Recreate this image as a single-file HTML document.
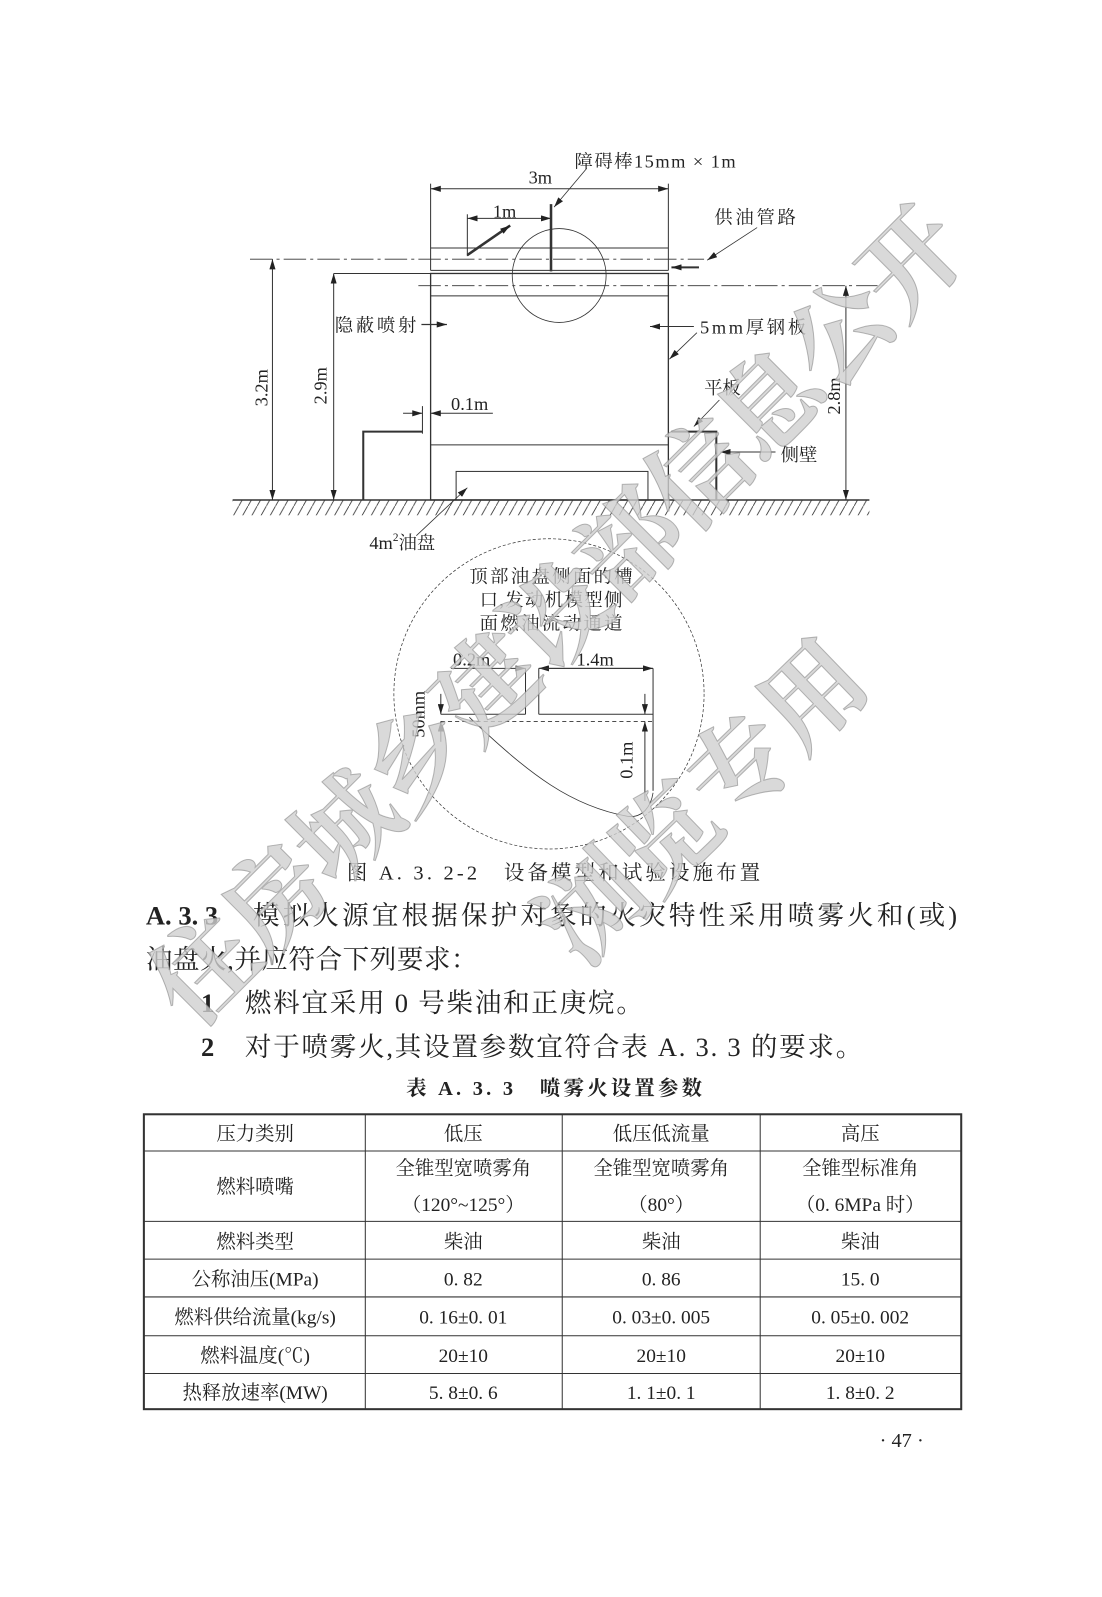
<!DOCTYPE html>
<html><head><meta charset="utf-8"><style>
html,body{margin:0;padding:0;background:#fff}
svg{display:block}
text{font-family:"Liberation Serif","Noto Serif CJK SC",serif;fill:#222}
.b{font-weight:bold}
</style></head><body>
<svg width="1102" height="1597" viewBox="0 0 1102 1597" xmlns="http://www.w3.org/2000/svg">
<defs>
<marker id="a" viewBox="0 0 10 6" refX="10" refY="3" markerWidth="10" markerHeight="6" orient="auto-start-reverse" markerUnits="userSpaceOnUse"><path d="M0,0 L10,3 L0,6 z" fill="#222"/></marker>
<pattern id="h" width="9" height="16" patternUnits="userSpaceOnUse"><line x1="9" y1="0" x2="0" y2="16" stroke="#333" stroke-width="0.8"/></pattern>
</defs>
<g transform="scale(1.0204)">
<g stroke="#333" fill="none" stroke-width="1">
<line x1="228" y1="490" x2="852" y2="490" stroke-width="1.5"/>
<rect x="228" y="490" width="624" height="15" fill="url(#h)" stroke="none"/>
<line x1="422" y1="243" x2="655" y2="243"/>
<line x1="422" y1="265" x2="655" y2="265"/>
<line x1="422" y1="180" x2="422" y2="265"/>
<line x1="655" y1="180" x2="655" y2="265"/>
<rect x="422" y="268" width="233" height="222" stroke-width="1.3"/>
<line x1="422" y1="290" x2="655" y2="290"/>
<line x1="422" y1="436" x2="655" y2="436"/>
<rect x="447" y="462" width="188" height="28"/>
<ellipse cx="548" cy="270" rx="46" ry="46" stroke-width="0.8"/>
<line x1="245" y1="254" x2="690" y2="254" stroke-dasharray="22,4,3,4" stroke-width="0.8"/>
<line x1="410" y1="280" x2="860" y2="280" stroke-dasharray="22,4,3,4" stroke-width="0.8"/>
<line x1="422" y1="185" x2="655" y2="185" marker-start="url(#a)" marker-end="url(#a)"/>
<line x1="458" y1="214" x2="540" y2="214" marker-start="url(#a)" marker-end="url(#a)"/>
<line x1="458" y1="210" x2="458" y2="251"/>
<line x1="540" y1="200" x2="540" y2="266" stroke-width="2.5"/>
<line x1="458" y1="250" x2="500" y2="221" stroke-width="2.5" marker-end="url(#a)"/>
<line x1="575" y1="165" x2="543" y2="203" stroke-width="0.8" marker-end="url(#a)"/>
<line x1="267" y1="254" x2="267" y2="490" marker-start="url(#a)" marker-end="url(#a)"/>
<line x1="327" y1="268" x2="327" y2="490" marker-start="url(#a)" marker-end="url(#a)"/>
<line x1="327" y1="268" x2="422" y2="268"/>
<line x1="829" y1="280" x2="829" y2="490" marker-start="url(#a)" marker-end="url(#a)"/>
<line x1="413" y1="318" x2="438" y2="318" stroke-width="1.3" marker-end="url(#a)"/>
<line x1="680" y1="320" x2="637" y2="320" stroke-width="1" marker-end="url(#a)"/>
<line x1="683" y1="326" x2="656" y2="352" stroke-width="0.8" marker-end="url(#a)"/>
<line x1="705" y1="392" x2="680" y2="418" stroke-width="0.8" marker-end="url(#a)"/>
<line x1="760" y1="443" x2="706" y2="443" stroke-width="1" marker-end="url(#a)"/>
<line x1="742" y1="223" x2="693" y2="255" stroke-width="0.8" marker-end="url(#a)"/>
<line x1="685" y1="262" x2="658" y2="262" stroke-width="2" marker-end="url(#a)"/>
<line x1="408" y1="525" x2="458" y2="478" stroke-width="0.8" marker-end="url(#a)"/>
<line x1="395" y1="405" x2="414" y2="405" marker-end="url(#a)"/>
<line x1="483" y1="405" x2="422" y2="405" marker-end="url(#a)"/>
<line x1="414" y1="398" x2="414" y2="425"/>
<polyline points="356,490 356,423 414,423" stroke-width="2"/>
<polyline points="658,423 702,423 702,490" stroke-width="2"/>
<circle cx="538" cy="680" r="152" stroke-dasharray="3,2" stroke-width="0.7"/>
<line x1="442" y1="655" x2="515" y2="655" marker-end="url(#a)"/>
<line x1="640" y1="655" x2="528" y2="655" marker-end="url(#a)"/>
<line x1="528" y1="655" x2="640" y2="655" marker-end="url(#a)"/>
<line x1="515" y1="655" x2="515" y2="700"/>
<line x1="528" y1="655" x2="528" y2="700"/>
<line x1="640" y1="655" x2="640" y2="775"/>
<line x1="432" y1="700" x2="515" y2="700"/>
<line x1="528" y1="700" x2="640" y2="700"/>
<line x1="432" y1="707" x2="640" y2="707" stroke-dasharray="4,3" stroke-width="0.8"/>
<line x1="432" y1="680" x2="432" y2="700" marker-end="url(#a)"/>
<line x1="432" y1="727" x2="432" y2="707" marker-end="url(#a)"/>
<line x1="632" y1="680" x2="632" y2="700" marker-end="url(#a)"/>
<line x1="632" y1="785" x2="632" y2="707" marker-end="url(#a)"/>
<path d="M460,703 C520,760 560,790 615,800 C630,802 638,790 640,777" stroke-width="0.8"/>
<rect x="141" y="1092" width="801" height="289" stroke-width="2"/>
<g stroke-width="1">
<line x1="141" y1="1128" x2="942" y2="1128"/>
<line x1="141" y1="1197" x2="942" y2="1197"/>
<line x1="141" y1="1234" x2="942" y2="1234"/>
<line x1="141" y1="1271" x2="942" y2="1271"/>
<line x1="141" y1="1309" x2="942" y2="1309"/>
<line x1="141" y1="1346" x2="942" y2="1346"/>
<line x1="358" y1="1092" x2="358" y2="1381"/>
<line x1="551" y1="1092" x2="551" y2="1381"/>
<line x1="745" y1="1092" x2="745" y2="1381"/>
</g>
</g>
<g font-size="18">
<text x="563" y="164" textLength="158">障碍棒15mm × 1m</text>
<text x="518" y="180">3m</text>
<text x="483" y="213">1m</text>
<text x="700" y="219" textLength="80">供油管路</text>
<text x="328" y="325" textLength="80">隐蔽喷射</text>
<text x="686" y="327" textLength="104">5mm厚钢板</text>
<text x="690" y="386">平板</text>
<text x="442" y="402">0.1m</text>
<text x="765" y="452">侧壁</text>
<text x="362" y="538">4m<tspan font-size="11" dy="-8">2</tspan><tspan dy="8">油盘</tspan></text>
<text transform="translate(262,380) rotate(-90)" text-anchor="middle">3.2m</text>
<text transform="translate(320,378) rotate(-90)" text-anchor="middle">2.9m</text>
<text transform="translate(823,388) rotate(-90)" text-anchor="middle">2.8m</text>
<text x="540" y="571" text-anchor="middle" textLength="160">顶部油盘侧面的槽</text>
<text x="540" y="594" text-anchor="middle" textLength="140">口,发动机模型侧</text>
<text x="540" y="617" text-anchor="middle" textLength="140">面燃油流动通道</text>
<text x="444" y="652">0.2m</text>
<text x="565" y="652">1.4m</text>
<text transform="translate(416,700) rotate(-90)" text-anchor="middle">50mm</text>
<text transform="translate(620,745) rotate(-90)" text-anchor="middle">0.1m</text>
</g>
<text x="340" y="862" font-size="20" textLength="405">图 A. 3. 2-2　设备模型和试验设施布置</text>
<g font-size="26">
<text x="143" y="906"><tspan class="b">A. 3. 3</tspan></text>
<text x="248" y="906" textLength="690">模拟火源宜根据保护对象的火灾特性采用喷雾火和(或)</text>
<text x="143" y="949" textLength="325">油盘火,并应符合下列要求：</text>
<text x="197" y="992" class="b">1</text>
<text x="240" y="992" textLength="390">燃料宜采用 0 号柴油和正庚烷。</text>
<text x="197" y="1035" class="b">2</text>
<text x="240" y="1035" textLength="605">对于喷雾火,其设置参数宜符合表 A. 3. 3 的要求。</text>
</g>
<text x="398" y="1073" font-size="20" class="b" textLength="290">表 A. 3. 3　喷雾火设置参数</text>
<g font-size="19" text-anchor="middle">
<text x="250" y="1117">压力类别</text><text x="454" y="1117">低压</text><text x="648" y="1117">低压低流量</text><text x="843" y="1117">高压</text>
<text x="250" y="1169">燃料喷嘴</text>
<text x="454" y="1151">全锥型宽喷雾角</text><text x="648" y="1151">全锥型宽喷雾角</text><text x="843" y="1151">全锥型标准角</text>
<text x="454" y="1187">（120°~125°）</text><text x="648" y="1187">（80°）</text><text x="843" y="1187">（0. 6MPa 时）</text>
<text x="250" y="1223">燃料类型</text><text x="454" y="1223">柴油</text><text x="648" y="1223">柴油</text><text x="843" y="1223">柴油</text>
<text x="250" y="1260">公称油压(MPa)</text><text x="454" y="1260">0. 82</text><text x="648" y="1260">0. 86</text><text x="843" y="1260">15. 0</text>
<text x="250" y="1297">燃料供给流量(kg/s)</text><text x="454" y="1297">0. 16±0. 01</text><text x="648" y="1297">0. 03±0. 005</text><text x="843" y="1297">0. 05±0. 002</text>
<text x="250" y="1335">燃料温度(℃)</text><text x="454" y="1335">20±10</text><text x="648" y="1335">20±10</text><text x="843" y="1335">20±10</text>
<text x="250" y="1371">热释放速率(MW)</text><text x="454" y="1371">5. 8±0. 6</text><text x="648" y="1371">1. 1±0. 1</text><text x="843" y="1371">1. 8±0. 2</text>
</g>
<text x="862" y="1418" font-size="20">· 47 ·</text>
<g font-family="'Noto Sans CJK SC',sans-serif" font-weight="bold" stroke="#888" stroke-width="1" stroke-opacity="0.6">
<text transform="translate(190,1010) rotate(-45)" font-size="100" textLength="1080" style="fill:#cfcfcf;fill-opacity:0.8">住房城乡建设部信息公开</text>
<text transform="translate(570,950) rotate(-44)" font-size="100" textLength="400" style="fill:#cfcfcf;fill-opacity:0.8">浏览专用</text>
</g>
</g>
</svg>
</body></html>
